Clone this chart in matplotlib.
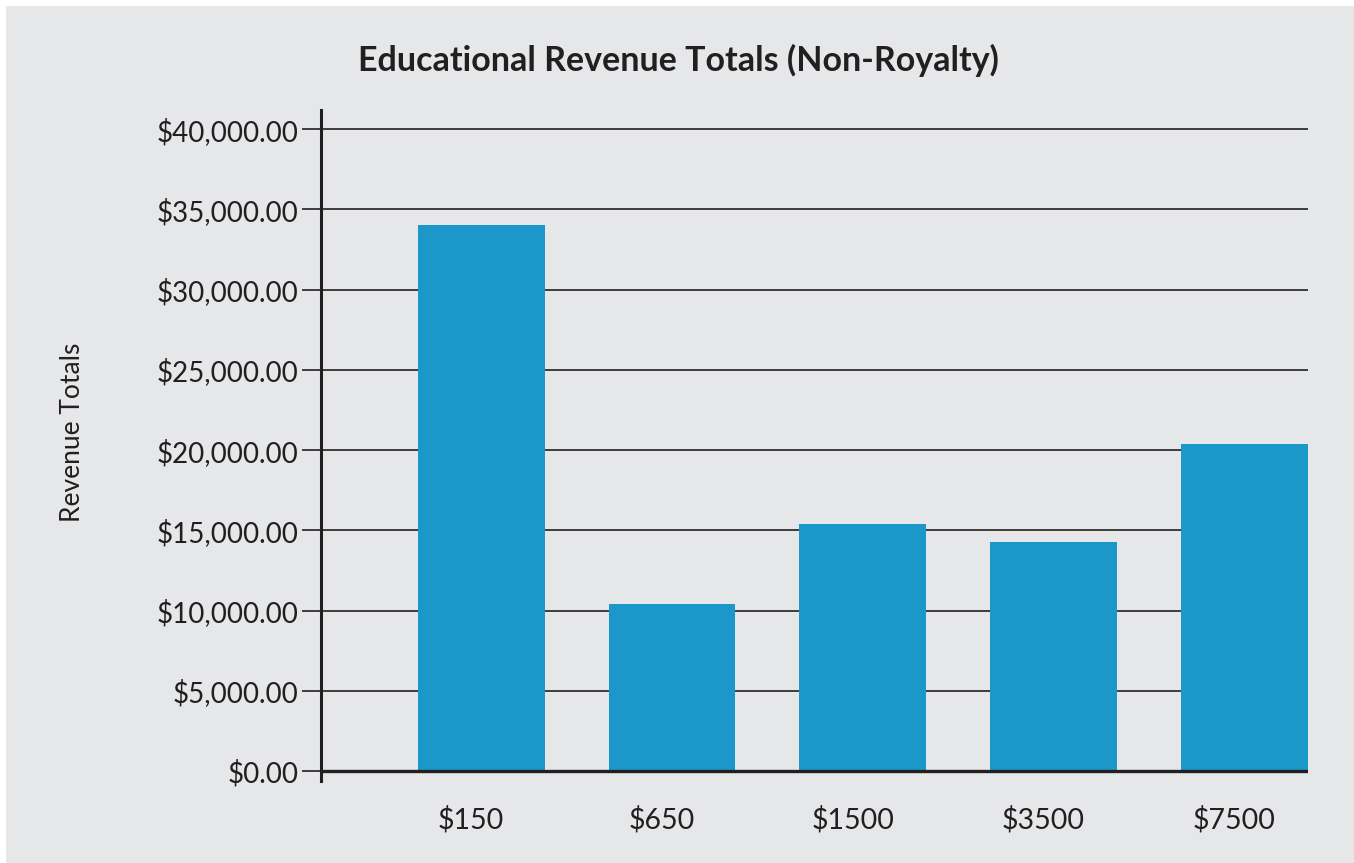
import matplotlib.pyplot as plt
import matplotlib.transforms as mtransforms
from matplotlib.patches import Rectangle

categories = ["$150", "$650", "$1500", "$3500", "$7500"]
revenue = [34050, 10420, 15400, 14280, 20380]
yticks = [0, 5000, 10000, 15000, 20000, 25000, 30000, 35000, 40000]

bg = "#e6e7e9"
bar_color = "#1b98c9"
ink = "#231f20"

plt.rcParams["font.family"] = ["Lato", "DejaVu Sans"]

fig = plt.figure(figsize=(13.54, 8.63), dpi=100)
fig.patch.set_facecolor("white")
# grey panel with small white margin on top and left
fig.patches.append(Rectangle((6 / 1354, 0), 1, 1 - 6 / 863, transform=fig.transFigure,
                             facecolor=bg, edgecolor="none", zorder=-5))

# axes box in pixels: left 321, right 1308, top 110, bottom 781
W, H = 1354, 863
ax = fig.add_axes([321 / W, 1 - 781 / H, (1308 - 321) / W, (781 - 110) / H])
ax.set_facecolor("none")

x = range(len(categories))
ax.bar(x, revenue, width=0.665, color=bar_color, zorder=2, clip_on=False)

ax.set_xlim(-0.84, 4.335)
ax.set_ylim(-620, 41200)

ax.set_yticks(yticks)
ax.set_yticklabels(["${:,.2f}".format(v) for v in yticks])
ax.set_xticks(list(x))
ax.set_xticklabels(categories)

for v in yticks[1:]:
    ax.axhline(v, color=ink, lw=1.2, zorder=1)
ax.axhline(0, color=ink, lw=2.4, zorder=3)

for s in ["top", "right", "bottom"]:
    ax.spines[s].set_visible(False)
ax.spines["left"].set_linewidth(2.2)
ax.spines["left"].set_color(ink)

ax.tick_params(axis="y", length=14, width=1.2, color=ink, labelsize=20,
               labelcolor=ink, pad=2)
ax.tick_params(axis="x", length=0, labelsize=20.5, labelcolor=ink, pad=18)

# category labels sit a little left of the bar centres in the original
shift = mtransforms.ScaledTranslation(-10 / 100, 0, fig.dpi_scale_trans)
for lab in ax.get_xticklabels():
    lab.set_transform(lab.get_transform() + shift)

fig.text(678 / W, 1 - 60 / H, "Educational Revenue Totals (Non-Royalty)",
         ha="center", va="center", fontsize=24.5, fontweight="bold", color=ink)
fig.text(72 / W, 1 - 432 / H, "Revenue Totals", rotation=90,
         ha="center", va="center", fontsize=19, color=ink)

fig.savefig("out.png", dpi=100)
